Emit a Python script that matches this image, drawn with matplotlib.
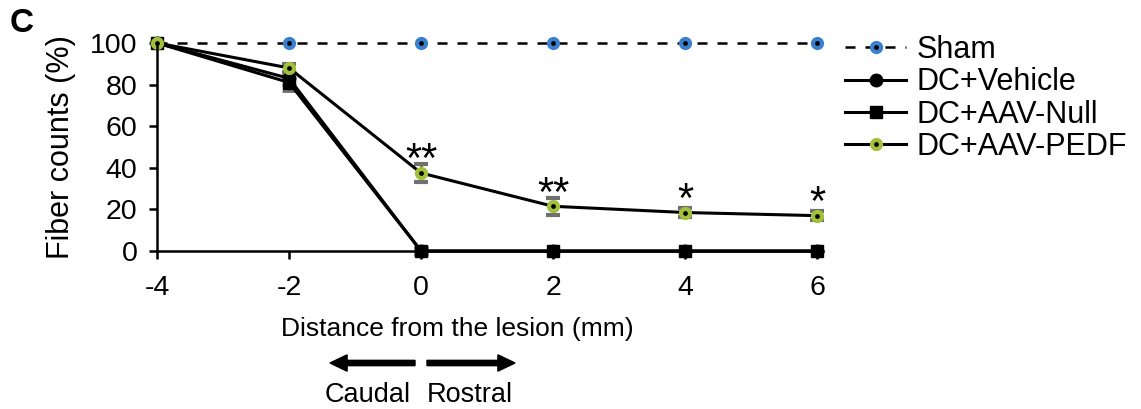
import matplotlib.pyplot as plt
from matplotlib.patches import FancyArrow

plt.rcParams['font.family'] = ['Liberation Sans', 'DejaVu Sans']

# distance from lesion (mm)
distance = [-4, -2, 0, 2, 4, 6]
sham = [100, 100, 100, 100, 100, 100]
vehicle = [100, 83, 0, 0, 0, 0]
aav_null = [100, 81, 0, 0, 0, 0]
aav_pedf = [100, 88, 37.5, 21.5, 18.5, 17]
vehicle_err = [0, 3, 1.5, 0, 0, 0]
null_err = [0, 4, 2, 0, 0, 0]
pedf_err = [0, 2, 4.5, 4, 2, 2]
stars = ['', '', '**', '**', '*', '*']

blue = '#3a80cc'
green = '#a2c13a'

fig = plt.figure(figsize=(11.41, 4.09), dpi=100)
ax = fig.add_axes([0.1376, 0.3863, 0.5785, 0.5086])

eb = dict(ecolor='#707070', elinewidth=2, capsize=5, capthick=2)
ax.errorbar(distance, vehicle, yerr=vehicle_err, color='black', lw=2.2,
            marker='o', ms=9, mfc='black', mec='black', clip_on=False, **eb)
ax.errorbar(distance, aav_null, yerr=null_err, color='black', lw=2.2,
            marker='s', ms=8.5, mfc='black', mec='black', clip_on=False, **eb)
ax.errorbar(distance, aav_pedf, yerr=pedf_err, color='black', lw=2.2,
            marker='o', ms=6.5, mfc='black', mec=green, mew=3, clip_on=False, **eb)
ax.plot(distance, sham, color='black', lw=1.8, ls=(0, (4, 4)),
        marker='o', ms=6.5, mfc='black', mec=blue, mew=3, clip_on=False)

# significance marks above the PEDF points
for x, y, s in zip(distance, aav_pedf, stars):
    if s:
        ax.annotate(s, (x, y), xytext=(0, 0.5), textcoords='offset points',
                    ha='center', va='baseline', fontsize=30)

ax.set_xlim(-4, 6)
ax.set_ylim(0, 100)
ax.set_xticks(distance)
ax.set_yticks([0, 20, 40, 60, 80, 100])
ax.set_xticklabels(['-4', '-2', '0', '2', '4', '6'])
ax.tick_params(labelsize=20.5, width=1.8, length=6, direction='out')
ax.tick_params(axis='x', pad=11)
ax.tick_params(axis='y', pad=8)
for side in ['top', 'right']:
    ax.spines[side].set_visible(False)
for side in ['left', 'bottom']:
    ax.spines[side].set_linewidth(1.8)
ax.set_ylabel('Fiber counts (%)', fontsize=22, labelpad=10)
ax.set_xlabel('Distance from the lesion (mm)', fontsize=19)
ax.xaxis.set_label_coords(0.4545, -0.315)

# legend
handles = [
    plt.Line2D([], [], color='black', lw=1.8, ls=(0, (4, 4)), marker='o', ms=6.5,
               mfc='black', mec=blue, mew=3),
    plt.Line2D([], [], color='black', lw=2.2, marker='o', ms=9, mfc='black', mec='black'),
    plt.Line2D([], [], color='black', lw=2.2, marker='s', ms=8.5, mfc='black', mec='black'),
    plt.Line2D([], [], color='black', lw=2.2, marker='o', ms=6.5, mfc='black', mec=green, mew=3),
]
labels = ['Sham', 'DC+Vehicle', 'DC+AAV-Null', 'DC+AAV-PEDF']
fig.legend(handles, labels, loc='upper left', bbox_to_anchor=(0.7406, 0.915),
           frameon=False, fontsize=22, handlelength=2.0, handletextpad=0.35,
           labelspacing=0.08, borderaxespad=0, borderpad=0)

# direction arrows
fig.patches.append(FancyArrow(
    415 / 1141, 1 - 363 / 409, -85 / 1141, 0, width=0.013, head_width=0.04,
    head_length=0.015, length_includes_head=True, color='black', transform=fig.transFigure))
fig.patches.append(FancyArrow(
    427 / 1141, 1 - 363 / 409, 88 / 1141, 0, width=0.013, head_width=0.04,
    head_length=0.015, length_includes_head=True, color='black', transform=fig.transFigure))
fig.text(368 / 1141, 1 - 395 / 409, 'Caudal', ha='center', va='center', fontsize=19.5)
fig.text(470 / 1141, 1 - 395 / 409, 'Rostral', ha='center', va='center', fontsize=19.5)

fig.text(10 / 1141, 1 - 24 / 409, 'C', ha='left', va='center', fontsize=24, fontweight='bold')

fig.savefig('out.png', dpi=100)
